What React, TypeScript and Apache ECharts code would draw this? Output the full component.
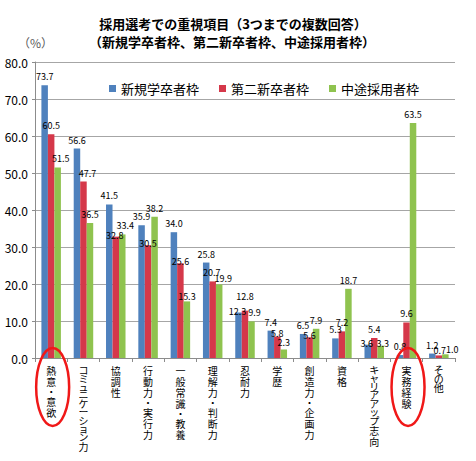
import React, { useEffect, useRef } from 'react';
import * as echarts from 'echarts';

const categories = [
  '熱意・意欲',
  'コミュニケーション力',
  '協調性',
  '行動力・実行力',
  '一般常識・教養',
  '理解力・判断力',
  '忍耐力',
  '学歴',
  '創造力・企画力',
  '資格',
  'キャリアアップ志向',
  '実務経験',
  'その他',
];
const seriesNames = ['新規学卒者枠', '第二新卒者枠', '中途採用者枠'];
const newGraduates = [73.7, 56.6, 41.5, 35.9, 34.0, 25.8, 12.3, 7.4, 6.5, 5.3, 3.6, 0.8, 1.2];
const secondNewGraduates = [60.5, 47.7, 32.8, 30.5, 25.6, 20.7, 12.8, 5.8, 5.6, 7.2, 5.4, 9.6, 0.7];
const midCareer = [51.5, 36.5, 33.4, 38.2, 15.3, 19.9, 9.9, 2.3, 7.9, 18.7, 3.3, 63.5, 1.0];
const yMin = 0;
const yMax = 80;
const yInterval = 10;
const titleLine1 = '採用選考での重視項目（3つまでの複数回答）';
const titleLine2 = '（新規学卒者枠、第二新卒者枠、中途採用者枠）';
const unitLabel = '（%）';
const highlighted = ['熱意・意欲', '実務経験'];

// label nudges (series index - category index -> [dx, dy]) as in the source layout
const labelNudges: Record<string, number[]> = {
  '0-6': [-1, 8],
  '0-10': [-1, 7],
  '1-1': [4, 0],
  '1-2': [-1, 7],
  '1-3': [0, 7],
  '1-4': [0, 7],
  '1-5': [-1, 0],
  '1-6': [0, -6],
  '1-7': [0, 5],
  '1-8': [0, 7],
  '1-12': [1, 4],
  '2-0': [3, 0],
  '2-2': [3, 0],
  '2-4': [0, 4],
  '2-5': [4, 3],
  '2-6': [3, 0],
  '2-7': [0, 2],
  '2-10': [2, 6],
  '2-12': [7, 4],
};

const colors = ['#4f81bd', '#d5384a', '#8fc34f'];
const FONT = '"Noto Sans CJK JP", "Noto Sans", sans-serif';
const SMALL = 'ャュョッァィゥェォー';

function verticalLabel(v: string): string {
  return Array.from(v)
    .map((c) => {
      if (c === '・') return `{m|${c}}`;
      if (SMALL.includes(c)) return `{s|${c}}`;
      if (c.charCodeAt(0) >= 0x4e00) return `{k|${c}}`;
      return `{n|${c}}`;
    })
    .join('\n');
}

export default function App() {
  const ref = useRef<HTMLDivElement>(null);
  useEffect(() => {
    if (!ref.current) return;
    const chart = echarts.init(ref.current, undefined, { renderer: 'svg' });
    const allData = [newGraduates, secondNewGraduates, midCareer];
    const rs = { fontSize: 10, color: '#000', fontFamily: FONT };
    const option: any = {
      animation: false,
      textStyle: { fontFamily: FONT },
      grid: { left: 35, right: 21, top: 62, bottom: 103, containLabel: false },
      legend: {
        left: 104,
        top: 77,
        icon: 'rect',
        itemWidth: 7,
        itemHeight: 7,
        itemGap: 20,
        textStyle: { fontSize: 13, color: '#000', fontFamily: FONT },
        data: seriesNames,
      },
      xAxis: {
        type: 'category',
        data: categories,
        axisLine: { lineStyle: { color: '#8c8c8c', width: 1 } },
        axisTick: { show: true, alignWithLabel: false, length: 4, lineStyle: { color: '#8c8c8c' } },
        axisLabel: {
          interval: 0,
          margin: 7,
          fontSize: 10,
          color: '#000',
          fontFamily: FONT,
          verticalAlign: 'top',
          formatter: verticalLabel,
          rich: {
            k: { ...rs, lineHeight: 11 },
            n: { ...rs, lineHeight: 8.7 },
            m: { ...rs, lineHeight: 9 },
            s: { ...rs, lineHeight: 8 },
          },
        },
      },
      yAxis: {
        type: 'value',
        min: yMin,
        max: yMax,
        interval: yInterval,
        axisLine: { show: true, lineStyle: { color: '#8c8c8c' } },
        axisTick: { show: true, length: 3, lineStyle: { color: '#8c8c8c' } },
        splitLine: { lineStyle: { color: '#a6a6a6', width: 1 } },
        axisLabel: {
          fontSize: 12,
          color: '#000',
          margin: 7,
          fontFamily: FONT,
          formatter: (v: number) => v.toFixed(1),
        },
      },
      series: seriesNames.map((name, i) => ({
        name,
        type: 'bar',
        data: allData[i].map((v, j) => {
          const nudge = labelNudges[`${i}-${j}`];
          return nudge ? { value: v, label: { offset: nudge } } : v;
        }),
        barWidth: 6.5,
        barGap: '0%',
        itemStyle: { color: colors[i] },
        label: {
          show: true,
          position: 'top',
          distance: 4,
          fontSize: 9,
          color: '#000',
          fontFamily: FONT,
          formatter: (p: any) => Number(p.value).toFixed(1),
        },
      })),
      graphic: [
        {
          type: 'text',
          x: 233,
          y: 17,
          style: { text: titleLine1, textAlign: 'center', fill: '#000', font: `bold 13px ${FONT}` },
        },
        {
          type: 'text',
          left: 89,
          top: 35,
          style: { text: titleLine2, fill: '#000', font: `bold 13px ${FONT}` },
        },
        {
          type: 'text',
          left: 18,
          top: 36,
          style: { text: unitLabel, fill: '#595959', font: `12px ${FONT}` },
        },
      ],
    };
    chart.setOption(option);
    const ellipses = highlighted.map((cat) => {
      const p = chart.convertToPixel({ gridIndex: 0 }, [cat, 0]) as number[];
      return {
        type: 'ellipse',
        shape: { cx: p[0] + 1.5, cy: p[1] + 29, rx: 16.5, ry: 39 },
        style: { fill: 'none', stroke: '#f01818', lineWidth: 2.5 },
        z: 100,
      };
    });
    chart.setOption({ graphic: [...option.graphic, ...ellipses] });
    return () => chart.dispose();
  }, []);
  return (
    <div
      ref={ref}
      style={{ position: 'absolute', left: 0, top: 0, width: 476, height: 461, background: '#fff' }}
    />
  );
}
